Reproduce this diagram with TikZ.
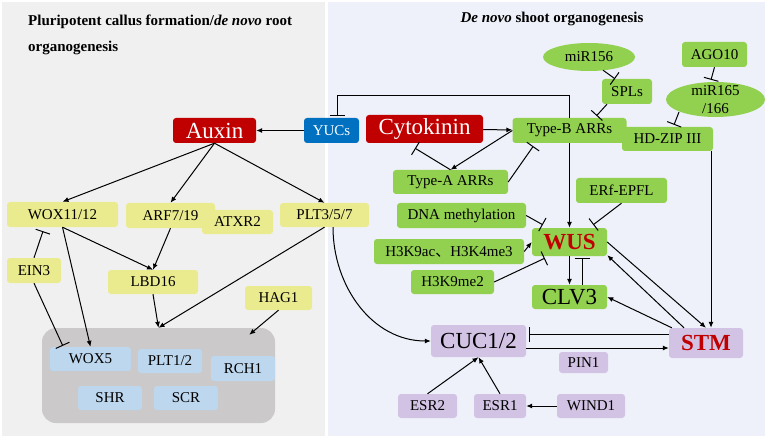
\documentclass[tikz,border=0pt]{standalone}
\usepackage{fontspec}
\setmainfont{Liberation Serif}
\newfontfamily\cjk{Noto Sans CJK SC}
\usepackage{tikz}
\usetikzlibrary{shapes.geometric,arrows.meta,calc}
\definecolor{hormred}{RGB}{192,0,0}
\definecolor{yucblue}{RGB}{0,112,192}
\definecolor{shootgrn}{RGB}{146,208,80}
\definecolor{callusyel}{RGB}{234,234,142}
\definecolor{rootblue}{RGB}{189,215,238}
\definecolor{cucpurp}{RGB}{210,195,228}
\definecolor{rootgray}{RGB}{203,201,202}
\definecolor{leftbg}{RGB}{240,240,240}
\definecolor{rightbg}{RGB}{238,241,249}

\begin{document}
\begin{tikzpicture}[x=1pt,y=-1pt,
  box/.style={rounded corners=3pt,inner sep=0pt,font=\fontsize{15}{18}\selectfont},
  big/.style={font=\fontsize{23}{26}\selectfont},
  key/.style={font=\fontsize{23}{26}\selectfont\bfseries,text=hormred},
  sz/.style 2 args={minimum width=#1,minimum height=#2},
  hormone/.style={box,big,fill=hormred,text=white},
  yel/.style={box,fill=callusyel},
  grn/.style={box,fill=shootgrn},
  lila/.style={box,fill=cucpurp},
  rootcell/.style={box,fill=rootblue},
  mirna/.style={ellipse,fill=shootgrn,inner sep=0pt,font=\fontsize{15}{18}\selectfont},
  ttl/.style={inner sep=0pt,font=\fontsize{15}{18}\selectfont\bfseries},
  act/.style={line width=1pt,-{Latex[length=6pt,width=5pt]}},
  inh/.style={line width=1pt,-{Bar[width=15pt]}}]
\useasboundingbox (0,0) rectangle (767,438);
\fill[leftbg] (2,2) rectangle (325,436);
\fill[rightbg] (328,2) rectangle (765,436);

\node (ttlL) at (28,26) [anchor=base west,ttl] {Pluripotent callus formation/\textit{de novo} root};
\node (ttlL2) at (28,52) [anchor=base west,ttl] {organogenesis};
\node (ttlR) at (552,23) [anchor=base,ttl] {\textit{De novo} shoot organogenesis};

% callus / root side
\node (auxin) at (214.5,130.5) [hormone,sz={83}{25}] {Auxin};
\node (yucs) at (331.5,130.5) [box,sz={55}{25},fill=yucblue,text=white] {YUCs};
\node (wox1112) at (62.5,214.5) [yel,sz={111}{25}] {WOX11/12};
\node (arf) at (170.5,215.5) [yel,sz={89}{25}] {ARF7/19};
\node (atxr) at (237.5,222) [yel,sz={71}{24}] {ATXR2};
\node (plt357) at (324.5,215) [yel,sz={89}{24}] {PLT3/5/7};
\node (ein3) at (34,270.5) [yel,sz={54}{25}] {EIN3};
\node (lbd16) at (153,282) [yel,sz={90}{24}] {LBD16};
\node (hag1) at (278.5,298) [yel,sz={67}{24}] {HAG1};
\node (rootzone) at (158.5,375.5) [rounded corners=14pt,fill=rootgray,sz={233}{95}] {};
\node (wox5) at (90.5,359) [rootcell,sz={81}{24}] {WOX5};
\node (plt12) at (170,361) [rootcell,sz={64}{24}] {PLT1/2};
\node (rch1) at (243,368.5) [rootcell,sz={64}{25}] {RCH1};
\node (shr) at (110,398) [rootcell,sz={64}{24}] {SHR};
\node (scr) at (186,398) [rootcell,sz={64}{24}] {SCR};

% shoot side
\node (cytok) at (424.5,129) [hormone,sz={117}{28}] {Cytokinin};
\node (typeb) at (569.5,130.5) [grn,sz={114}{25}] {Type-B ARRs};
\node (hdzip) at (667.5,139) [grn,sz={91}{24}] {HD-ZIP III};
\node (mir156) at (589,57) [mirna,sz={92}{28}] {miR156};
\node (spls) at (627,91.5) [grn,sz={50}{25}] {SPLs};
\node (ago10) at (714.5,54.5) [grn,sz={65}{25}] {AGO10};
\node (mir165) at (715.5,99.5) [mirna,sz={99}{35},inner ysep=-5pt,align=center] {miR165\\/166};
\node (typea) at (450.5,182) [grn,sz={115}{24}] {Type-A ARRs};
\node (erf) at (621.5,190.5) [grn,sz={91}{25}] {ERf-EPFL};
\node (dnam) at (461.5,215.5) [grn,sz={129}{25}] {DNA methylation};
\node (wus) at (569.5,242) [grn,key,sz={75}{28}] {WUS};
\node (h3k9ac) at (449,251.5) [grn,sz={150}{25}] {H3K9ac{\cjk 、}H3K4me3};
\node (h3k9me2) at (452.5,282) [grn,sz={83}{24}] {H3K9me2};
\node (clv3) at (569.5,297) [grn,big,sz={75}{24}] {CLV3};
\node (stm) at (706,343) [lila,key,sz={74}{30}] {STM};
\node (cuc) at (478.5,341) [lila,big,sz={95}{32}] {CUC1/2};
\node (pin1) at (583.5,362.5) [lila,sz={49}{21}] {PIN1};
\node (esr2) at (427.5,406) [lila,sz={59}{24}] {ESR2};
\node (esr1) at (500,406) [lila,sz={52}{24}] {ESR1};
\node (wind1) at (591,406) [lila,sz={68}{24}] {WIND1};

\draw[act] (yucs) -- (auxin);
\draw[act] (auxin.south) -- (wox1112.north);
\draw[act] (auxin.south) -- (arf.north);
\draw[act] (auxin.south) -- (plt357.north);
\draw[inh] (ein3.north) -- ($(wox1112.south)+(-19.5,4)$);
\draw[inh] (ein3.south) -- ($(wox5.north west)+(13,-1)$);
\draw[act] (wox1112.south) -- (wox5.north);
\draw[act] (wox1112.south) -- (lbd16.north);
\draw[act] (arf.south) -- (lbd16.north);
\draw[act] (lbd16.south) -- (rootzone.north);
\draw[act] (plt357.south) -- (rootzone.north);
\draw[act] (hag1.south) -- ($(rootzone.north east)+(-26,7)$);
\draw[act] ($(plt357.south)+(8.5,0)$) to[out=-90,in=180] (cuc.west);

\draw[inh] (typeb.north) -- ++(0,-22) -| ($(yucs.north)+(5.5,-2)$);
\draw[act] (cytok) -- (typeb);
\draw[act] (typeb.west) -- (typea.north);
\draw[inh] (typea.north) -- ($(cytok.south)+(-9.5,5)$);
\draw[inh] (typea.east) -- ($(typeb.south west)+(21,3)$);
\draw[inh] ($(mir156.south)+(14,-1)$) -- ($(spls.north)+(-12,0)$);
\draw[inh] ($(spls.south)+(-20,0)$) -- ($(typeb.north)+(27,-2)$);
\draw[inh] (ago10.south) -- ($(mir165.north)+(-4.5,-2)$);
\draw[inh] ($(mir165.center)+(-36.5,12.5)$) -- ($(hdzip.north)+(6.5,-2)$);
\draw[act] ($(hdzip.south)+(43.5,0)$) -- ($(stm.north)+(5,0)$);
\draw[act] (typeb.south) -- (wus.north);
\draw[inh] (dnam.east) -- ($(wus.north west)+(11,-3)$);
\draw[inh] (erf.south) -- ($(wus.north east)+(-14,-3)$);
\draw[act] (h3k9ac.east) -- (wus.west);
\draw[inh] (h3k9me2.east) -- ($(wus.south west)+(13,2)$);
\draw[act] (wus.south) -- (clv3.north);
\draw[inh] ($(clv3.north)+(12.5,0)$) -- ($(wus.south)+(12.5,2)$);
\draw[act] (wus.east) -- (stm.north);
\draw[act] ($(stm.north)+(-22,0)$) -- ($(wus.south east)+(0,-1)$);
\draw[act] ($(stm.north west)+(3,0)$) -- (clv3.east);
\draw[inh] ($(stm.west)+(0,-9)$) -- ($(cuc.east)+(3,-7)$);
\draw[act] ($(cuc.east)+(0,7)$) -- ($(stm.west)+(0,5)$);
\draw[act] (esr2.north) -- (cuc.south);
\draw[act] (esr1.north) -- (cuc.south);
\draw[act] (wind1) -- (esr1);
\end{tikzpicture}
\end{document}
